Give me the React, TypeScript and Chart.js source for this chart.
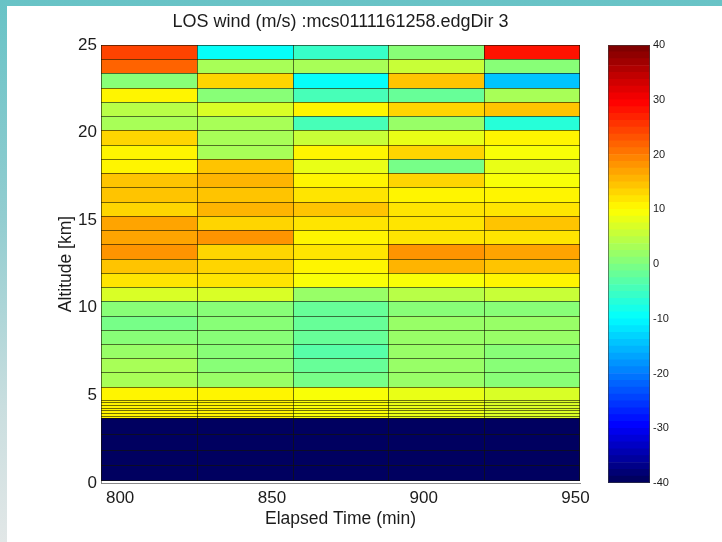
import { useEffect, useRef } from "react";
import { Chart, registerables } from "chart.js";

Chart.register(...registerables);

const FONT = "'Liberation Sans', Arial, Helvetica, sans-serif";
const TEXT = "#1c1c1c";

const TITLE = "LOS wind (m/s) :mcs0111161258.edgDir 3";
const X_LABEL = "Elapsed Time (min)";
const Y_LABEL = "Altitude [km]";

// Time bin edges (min) and altitude bin edges (km, top to bottom)
const TIME_EDGES = [793.7, 825.4, 857.0, 888.3, 920.0, 951.5];
const ALT_EDGES = [
  25.0, 24.19, 23.38, 22.56, 21.75, 20.94, 20.13, 19.31, 18.5, 17.69, 16.88, 16.06, 15.25,
  14.44, 13.63, 12.81, 12.0, 11.19, 10.38, 9.56, 8.75, 7.94, 7.13, 6.31, 5.5,
  4.75, 4.6, 4.45, 4.3, 4.15, 4.0, 3.85, 3.7,
  2.8, 1.9, 1.0, 0.1,
];

const TIME_TICKS = [800, 850, 900, 950];
const ALT_TICKS = [0, 5, 10, 15, 20, 25];
const CBAR_TICKS = [-40, -30, -20, -10, 0, 10, 20, 30, 40];
const CBAR_MIN = -40;
const CBAR_MAX = 40;

// LOS wind (m/s) per time bin, one value per altitude bin (top to bottom)
const WIND_T1 = [
  24, 22, 0, 10.5, 4, 3, 13.5, 11, 10.5, 14, 14.5, 13, 17, 16.5, 17.5, 14, 12, 7, 0.5, -0.5, 1, 2, 2.5, 3,
  10.5, 11, 11, 10.5, 11, 11, 10.5, 11,
  -40, -40, -40, -40,
];
const WIND_T2 = [
  -10, 3, 13.5, 1, 7, 3, 3.5, 2.5, 14, 15.5, 14.5, 16, 12.5, 17.5, 13.5, 13, 12, 6.5, 0, 0.5, 0, 0.5, 1, 1.5,
  10, 10, 10, 10, 10, 10, 10, 10,
  -40, -40, -40, -40,
];
const WIND_T3 = [
  -6, 3, -10, -4.5, 11, -4, 5.5, 11, 8, 10.5, 11.5, 14, 11.5, 10.5, 11.5, 10.5, 9, 1.5, -1.5, -2, -2.5, -3.5, -1.5, -0.5,
  9, 9, 9, 9, 9, 9, 9, 9,
  -40, -40, -40, -40,
];
const WIND_T4 = [
  0, 5, 14, -2.5, 12.5, 1.5, 8, 12.5, -0.5, 13.5, 10.5, 11.5, 11.5, 11.5, 18, 15.5, 9, 4, 1, 1.5, 1.5, 1.5, 1.5, 2,
  8.5, 8.5, 8.5, 8.5, 8.5, 8.5, 8.5, 8.5,
  -40, -40, -40, -40,
];
const WIND_T5 = [
  28, 0.5, -14.5, 2.5, 14, -7, 10.5, 9, 8.5, 9, 10.5, 11.5, 14.5, 12, 17, 14, 10.5, 5.5, 0, 1.5, 1.5, 1, 0, 1,
  6.5, 6.5, 6.5, 6.5, 6.5, 6.5, 6.5, 6.5,
  -40, -40, -40, -40,
];
const WIND_COLUMNS = [WIND_T1, WIND_T2, WIND_T3, WIND_T4, WIND_T5];

// 64-entry jet-style colour map
const JET_STOPS: [number, number, number, number][] = [
  [0, 0, 0, 96],
  [0.125, 0, 0, 255],
  [0.375, 0, 255, 255],
  [0.625, 255, 255, 0],
  [0.875, 255, 0, 0],
  [1, 128, 0, 0],
];
const N_COLORS = 64;

function jetAt(t: number): string {
  for (let i = 0; i < JET_STOPS.length - 1; i++) {
    const a = JET_STOPS[i];
    const b = JET_STOPS[i + 1];
    if (t <= b[0]) {
      const f = (t - a[0]) / (b[0] - a[0]);
      const r = Math.round(a[1] + (b[1] - a[1]) * f);
      const g = Math.round(a[2] + (b[2] - a[2]) * f);
      const bl = Math.round(a[3] + (b[3] - a[3]) * f);
      return `rgb(${r},${g},${bl})`;
    }
  }
  return "rgb(128,0,0)";
}

const COLORMAP = Array.from({ length: N_COLORS }, (_, k) => jetAt(k / (N_COLORS - 1)));

function colorFor(v: number): string {
  let idx = Math.floor(((v - CBAR_MIN) / (CBAR_MAX - CBAR_MIN)) * N_COLORS);
  idx = Math.max(0, Math.min(N_COLORS - 1, idx));
  return COLORMAP[idx];
}

type Cell = { x: number; y: number; x0: number; x1: number; y0: number; y1: number; v: number };

function buildCells(): Cell[] {
  const cells: Cell[] = [];
  WIND_COLUMNS.forEach((col, j) => {
    col.forEach((v, i) => {
      const x0 = TIME_EDGES[j];
      const x1 = TIME_EDGES[j + 1];
      const y1 = ALT_EDGES[i];
      const y0 = ALT_EDGES[i + 1];
      cells.push({ x: (x0 + x1) / 2, y: (y0 + y1) / 2, x0, x1, y0, y1, v });
    });
  });
  return cells;
}

// Draws the pcolor-style cells and their edge lines through the chart scales
const heatCells = {
  id: "heatCells",
  beforeDatasetsDraw(chart: any) {
    const { ctx, chartArea, scales } = chart;
    const xs = scales.x;
    const ys = scales.y;
    const cells: Cell[] = chart.data.datasets[0].data;
    ctx.save();
    ctx.beginPath();
    ctx.rect(chartArea.left, chartArea.top, chartArea.right - chartArea.left, chartArea.bottom - chartArea.top);
    ctx.clip();
    for (const c of cells) {
      const px0 = Math.round(xs.getPixelForValue(c.x0));
      const px1 = Math.round(xs.getPixelForValue(c.x1));
      const py1 = Math.round(ys.getPixelForValue(c.y1));
      const py0 = Math.round(ys.getPixelForValue(c.y0));
      ctx.fillStyle = colorFor(c.v);
      ctx.fillRect(px0, py1, px1 - px0, py0 - py1);
    }
    ctx.strokeStyle = "rgba(20,20,0,0.6)";
    ctx.lineWidth = 1;
    const left = Math.round(xs.getPixelForValue(TIME_EDGES[0]));
    const right = Math.round(xs.getPixelForValue(TIME_EDGES[TIME_EDGES.length - 1]));
    const top = Math.round(ys.getPixelForValue(ALT_EDGES[0]));
    const bottom = Math.round(ys.getPixelForValue(ALT_EDGES[ALT_EDGES.length - 1]));
    ctx.beginPath();
    for (const a of ALT_EDGES) {
      let py = Math.round(ys.getPixelForValue(a)) + 0.5;
      if (a === ALT_EDGES[ALT_EDGES.length - 1]) py -= 1;
      ctx.moveTo(left, py);
      ctx.lineTo(right, py);
    }
    for (const t of TIME_EDGES) {
      let px = Math.round(xs.getPixelForValue(t)) + 0.5;
      if (t === TIME_EDGES[TIME_EDGES.length - 1]) px -= 1;
      ctx.moveTo(px, top);
      ctx.lineTo(px, bottom);
    }
    ctx.stroke();
    ctx.restore();
  },
};

const cbarFrame = {
  id: "cbarFrame",
  afterDatasetsDraw(chart: any) {
    const { ctx, chartArea } = chart;
    ctx.save();
    ctx.strokeStyle = "rgba(60,60,60,0.6)";
    ctx.lineWidth = 1;
    ctx.strokeRect(
      Math.round(chartArea.left) + 0.5,
      Math.round(chartArea.top) + 0.5,
      Math.round(chartArea.right - chartArea.left) - 1,
      Math.round(chartArea.bottom - chartArea.top) - 1
    );
    ctx.restore();
  },
};

export default function App() {
  const mainRef = useRef<HTMLCanvasElement>(null);
  const barRef = useRef<HTMLCanvasElement>(null);

  useEffect(() => {
    const main = new Chart(mainRef.current as HTMLCanvasElement, {
      type: "scatter",
      data: {
        datasets: [
          {
            data: buildCells() as any,
            pointRadius: 0,
            pointHoverRadius: 0,
            showLine: false,
          },
        ],
      },
      options: {
        responsive: false,
        animation: false,
        events: [],
        layout: { padding: { left: 0, right: 142, top: 0, bottom: 0 } },
        plugins: {
          legend: { display: false },
          tooltip: { enabled: false },
          title: {
            display: true,
            text: TITLE,
            fullSize: false,
            color: TEXT,
            font: { family: FONT, size: 18, weight: "normal" },
            padding: { top: 11.5, bottom: 11.9 },
          },
        },
        scales: {
          x: {
            type: "linear",
            min: TIME_EDGES[0],
            max: TIME_EDGES[TIME_EDGES.length - 1],
            afterBuildTicks: (s: any) => {
              s.ticks = TIME_TICKS.map((v) => ({ value: v }));
            },
            afterFit: (s: any) => {
              s.height = 59;
            },
            grid: { display: false, drawTicks: false },
            border: { display: true, color: "#8a8a8a", width: 1 },
            ticks: {
              color: TEXT,
              padding: 5,
              maxRotation: 0,
              autoSkip: false,
              font: { family: FONT, size: 17 },
              callback: (v: any) => String(v),
            },
            title: {
              display: true,
              text: X_LABEL,
              color: TEXT,
              font: { family: FONT, size: 17.5 },
              padding: { top: 0, bottom: 12 },
            },
          },
          y: {
            type: "linear",
            min: 0,
            max: 25,
            afterBuildTicks: (s: any) => {
              s.ticks = ALT_TICKS.map((v) => ({ value: v }));
            },
            afterFit: (s: any) => {
              s.width = 101;
            },
            grid: { display: false, drawTicks: false },
            border: { display: true, color: "#8a8a8a", width: 1 },
            ticks: {
              color: TEXT,
              padding: 4,
              autoSkip: false,
              font: { family: FONT, size: 17 },
              callback: (v: any) => String(v),
            },
            title: {
              display: true,
              text: Y_LABEL,
              color: TEXT,
              font: { family: FONT, size: 17.5 },
              padding: { top: 56, bottom: 0 },
            },
          },
        },
      },
      plugins: [heatCells],
    } as any);

    const segStep = (CBAR_MAX - CBAR_MIN) / N_COLORS;
    const bar = new Chart(barRef.current as HTMLCanvasElement, {
      type: "bar",
      data: {
        labels: [""],
        datasets: COLORMAP.map((c, k) => ({
          data: [[CBAR_MIN + k * segStep, CBAR_MIN + (k + 1) * segStep]],
          backgroundColor: c,
          borderWidth: 0,
          barPercentage: 1,
          categoryPercentage: 1,
          grouped: false,
        })),
      },
      options: {
        responsive: false,
        animation: false,
        events: [],
        layout: { padding: { left: 18, right: 0, top: 45, bottom: 59 } },
        plugins: { legend: { display: false }, tooltip: { enabled: false }, title: { display: false } },
        scales: {
          x: { display: false },
          y: {
            position: "right",
            min: CBAR_MIN,
            max: CBAR_MAX,
            afterBuildTicks: (s: any) => {
              s.ticks = CBAR_TICKS.map((v) => ({ value: v }));
            },
            afterFit: (s: any) => {
              s.width = 72;
            },
            grid: { display: false, drawTicks: false },
            border: { display: false },
            ticks: {
              color: TEXT,
              padding: 3,
              autoSkip: false,
              font: { family: FONT, size: 11 },
              callback: (v: any) => String(v),
            },
          },
        },
      },
      plugins: [cbarFrame],
    } as any);

    return () => {
      main.destroy();
      bar.destroy();
    };
  }, []);

  return (
    <div
      style={{
        position: "absolute",
        left: 0,
        top: 0,
        width: 722,
        height: 542,
        overflow: "hidden",
        background: "linear-gradient(180deg, #68c3c6 0%, #92cdd0 40%, #c9dedf 75%, #e2e7e7 100%)",
      }}
    >
      <div style={{ position: "absolute", left: 7, top: 6, right: 0, bottom: 0, background: "#ffffff" }} />
      <canvas
        ref={mainRef}
        width={722}
        height={542}
        style={{ position: "absolute", left: 0, top: 0, width: 722, height: 542 }}
      />
      <canvas
        ref={barRef}
        width={132}
        height={542}
        style={{ position: "absolute", left: 590, top: 0, width: 132, height: 542 }}
      />
    </div>
  );
}
